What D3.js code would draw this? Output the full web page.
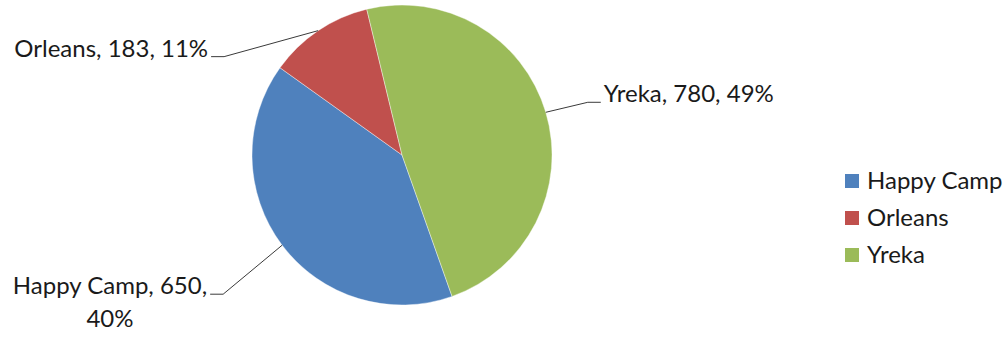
<!DOCTYPE html>
<html>
<head>
<meta charset="utf-8">
<script src="https://cdn.jsdelivr.net/npm/d3@7"></script>
<style>
  body { margin: 0; background: #fff; }
  text { font-family: Lato, "Open Sans", sans-serif; fill: #1a1a1a; }
</style>
</head>
<body>
<svg id="chart" width="1006" height="339"></svg>
<script>
// data
const towns = ["Happy Camp", "Orleans", "Yreka"];
const counts = [650, 183, 780];
const percents = ["40%", "11%", "49%"];
const colours = ["#4F81BD", "#C0504D", "#9BBB59"];

const width = 1006, height = 339;
const cx = 402, cy = 155, radius = 150;
const fontSize = 24;

// where each label's leader bends, relative to the slice edge (Excel placed them by hand)
const labelOffsets = [
    {dx: -59, dy: 49, side: "left", wrap: true},
    {dx: -94, dy: 26, side: "left", wrap: false},
    {dx: 42, dy: -10, side: "right", wrap: false}
];
const tail = 13;

const svg = d3.select("#chart");

const slices = towns.map((t, i) => ({town: t, count: counts[i], pct: percents[i], i: i}));

const pie = d3.pie()
    .value(d => d.count)
    .sort(null)
    .startAngle(160.5 * Math.PI / 180)
    .endAngle((160.5 + 360) * Math.PI / 180);

const arc = d3.arc().innerRadius(0).outerRadius(radius);
const edge = d3.arc().innerRadius(radius).outerRadius(radius);

const g = svg.append("g").attr("transform", `translate(${cx},${cy})`);

g.selectAll("path.slice")
    .data(pie(slices))
    .enter().append("path")
    .attr("class", "slice")
    .attr("d", arc)
    .style("fill", d => colours[d.data.i])
    .style("stroke", "#fff")
    .style("stroke-width", 0.4);

// leader lines + labels
const labels = g.selectAll("g.label")
    .data(pie(slices))
    .enter().append("g")
    .attr("class", "label");

labels.each(function(d) {
    const lay = labelOffsets[d.data.i];
    const p0 = edge.centroid(d);
    const p1 = [p0[0] + lay.dx, p0[1] + lay.dy];
    const p2 = [p1[0] + (lay.side === "left" ? -tail : tail), p1[1]];
    const sel = d3.select(this);
    sel.append("polyline")
        .attr("points", [p0, p1, p2].map(p => p.join(",")).join(" "))
        .style("fill", "none")
        .style("stroke", "#3a3a3a")
        .style("stroke-width", 1);

    const gap = 3;
    if (lay.wrap) {
        const t = sel.append("text")
            .style("font-size", fontSize + "px")
            .attr("text-anchor", "middle");
        const l1 = t.append("tspan").text(`${d.data.town}, ${d.data.count},`);
        const w = l1.node().getComputedTextLength();
        const mid = p2[0] - gap - w / 2;
        l1.attr("x", mid).attr("y", p2[1]);
        t.append("tspan").attr("x", mid).attr("dy", "1.35em").text(d.data.pct);
    } else {
        sel.append("text")
            .style("font-size", fontSize + "px")
            .attr("text-anchor", lay.side === "left" ? "end" : "start")
            .attr("x", lay.side === "left" ? p2[0] - gap : p2[0] + gap)
            .attr("y", p2[1])
            .text(`${d.data.town}, ${d.data.count}, ${d.data.pct}`);
    }
});

// legend
const legendY = d3.scalePoint().domain(towns).range([181, 255]);
const legend = svg.append("g").attr("class", "legend");
const item = legend.selectAll("g")
    .data(towns)
    .enter().append("g")
    .attr("transform", d => `translate(845,${legendY(d)})`);

item.append("rect")
    .attr("x", 0).attr("y", -7)
    .attr("width", 14).attr("height", 14)
    .style("fill", (d, i) => colours[i]);

item.append("text")
    .attr("x", 22)
    .attr("y", 8)
    .style("font-size", fontSize + "px")
    .text(d => d);
</script>
</body>
</html>
